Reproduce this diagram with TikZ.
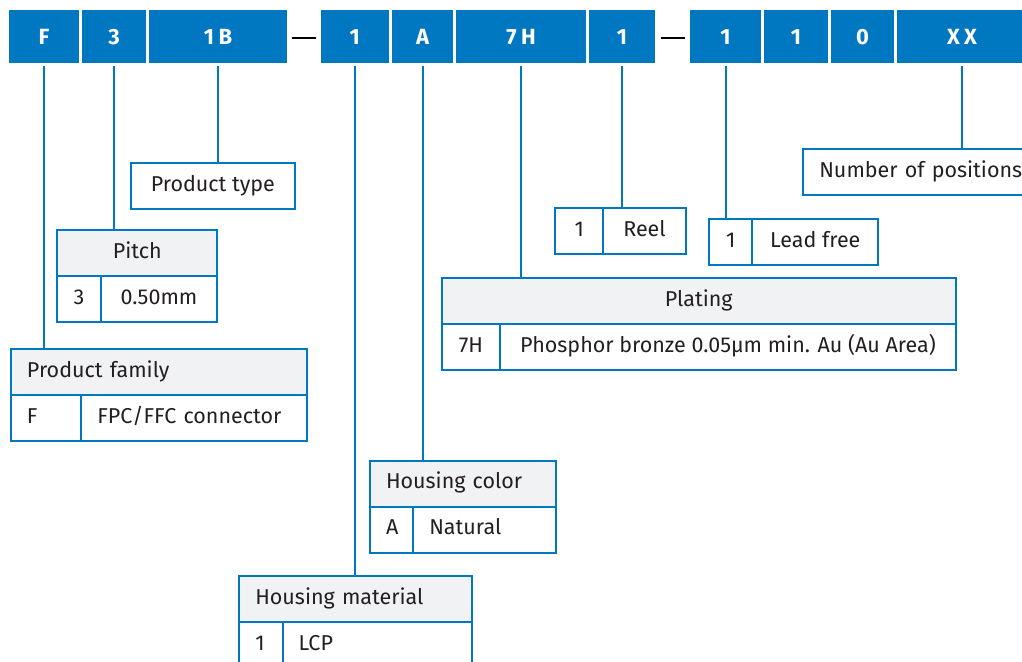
\documentclass[tikz,border=0pt]{standalone}
\usepackage{fontspec}
\setmainfont{Fira Sans}
\newfontfamily\codefont[LetterSpace=20]{Fira Sans}
\usetikzlibrary{positioning}
\definecolor{fjblue}{RGB}{0,119,193}
\definecolor{headgray}{RGB}{241,242,244}
\definecolor{inkgray}{RGB}{35,31,32}

\begin{document}
\begin{tikzpicture}[x=1pt,y=-1pt,
  every node/.style={font=\fontsize{21.5}{25}\selectfont, text=inkgray, outer sep=0pt},
  code/.style={fill=fjblue, text=white, inner sep=0pt, minimum height=52.5pt, minimum width=#1,
    font=\fontsize{22}{25}\selectfont\codefont\bfseries},
  cell/.style={draw=fjblue, line width=2pt, inner sep=0pt, minimum width=#1, minimum height=46pt,
    anchor=north west, text height=15pt, text depth=4.5pt},
  lcell/.style={draw=fjblue, line width=2pt, inner xsep=16pt, inner ysep=0pt, text width=#1, align=left,
    minimum height=46pt, anchor=north west, text height=15pt, text depth=4.5pt},
  head/.style={fill=headgray},
  link/.style={draw=fjblue, line width=2pt, shorten <=3pt},
  dashline/.style={draw=black, line width=2.5pt}]
\useasboundingbox (0,0) rectangle (1022,661);

% part number
\node[code=70pt, anchor=north west] (cF) at (9,10.5) {F};
\node[code=64pt, right=3pt of cF] (c3) {3};
\node[code=138pt, right=3pt of c3] (c1B) {1B};
\node[code=68.5pt, right=33.5pt of c1B] (c1) {1};
\node[code=61pt, right=3pt of c1] (cA) {A};
\node[code=130pt, right=3pt of cA] (c7H) {7H};
\node[code=66pt, right=3pt of c7H] (cR) {1};
\node[code=71pt, right=35pt of cR] (cL) {1};
\node[code=64pt, right=3pt of cL] (cS) {1};
\node[code=63pt, right=3pt of cS] (c0) {0};
\node[code=130pt, right=3pt of c0] (cXX) {XX};
\draw[dashline] ([xshift=5pt,yshift=-1.5pt]c1B.east) -- ([xshift=-4.5pt,yshift=-1.5pt]c1.west);
\draw[dashline] ([xshift=6pt,yshift=-1.5pt]cR.east) -- ([xshift=-5pt,yshift=-1.5pt]cL.west);

% tables
\node[lcell=263.7pt, head] (famH) at (11,349.3) {Product family};
\node[lcell=38.3pt] (famC) at (famH.south west) {F};
\node[lcell=193.4pt] (famD) at (famC.north east) {FPC/FFC connector};

\node[cell=160pt, head] (pitH) at (57.3,230) {Pitch};
\node[cell=43.4pt] (pitC) at (pitH.south west) {3};
\node[cell=116.6pt] (pitD) at (pitC.north east) {0.50mm};

\node[cell=164.3pt] (typB) at (130.7,163.3) {Product type};

\node[lcell=154pt, head] (colH) at (370,460.7) {Housing color};
\node[lcell=11.3pt] (colC) at (colH.south west) {A};
\node[lcell=110.7pt] (colD) at (colC.north east) {Natural};

\node[lcell=200.4pt, head] (matH) at (239.3,576) {Housing material};
\node[lcell=11.4pt] (matC) at (matH.south west) {1};
\node[lcell=157pt] (matD) at (matC.north east) {LCP};

\node[cell=48pt] (reelC) at (555.3,208.3) {1};
\node[cell=82.4pt] (reelD) at (reelC.north east) {Reel};

\node[cell=43.3pt] (leadC) at (709,219.3) {1};
\node[cell=126pt] (leadD) at (leadC.north east) {Lead free};

\node[cell=514pt, head] (plaH) at (441.7,278.3) {Plating};
\node[cell=58.6pt] (plaC) at (plaH.south west) {7H};
\node[cell=455.4pt] (plaD) at (plaC.north east) {Phosphor bronze 0.05µm min. Au (Au Area)};

\node[lcell=232pt] (numB) at (803.3,149) {Number of positions};

% leaders
\draw[link] (cF.south) -- (cF.south |- famH.north);
\draw[link] (c3.south) -- (c3.south |- pitH.north);
\draw[link] (c1B.south) -- (c1B.south |- typB.north);
\draw[link] (c1.south) -- (c1.south |- matH.north);
\draw[link] (cA.south) -- (cA.south |- colH.north);
\draw[link] (c7H.south) -- (c7H.south |- plaH.north);
\draw[link] (cR.south) -- (cR.south |- reelD.north);
\draw[link] (cL.south) -- (cL.south |- leadC.north);
\draw[link] (cXX.south) -- (cXX.south |- numB.north);
\end{tikzpicture}
\end{document}
